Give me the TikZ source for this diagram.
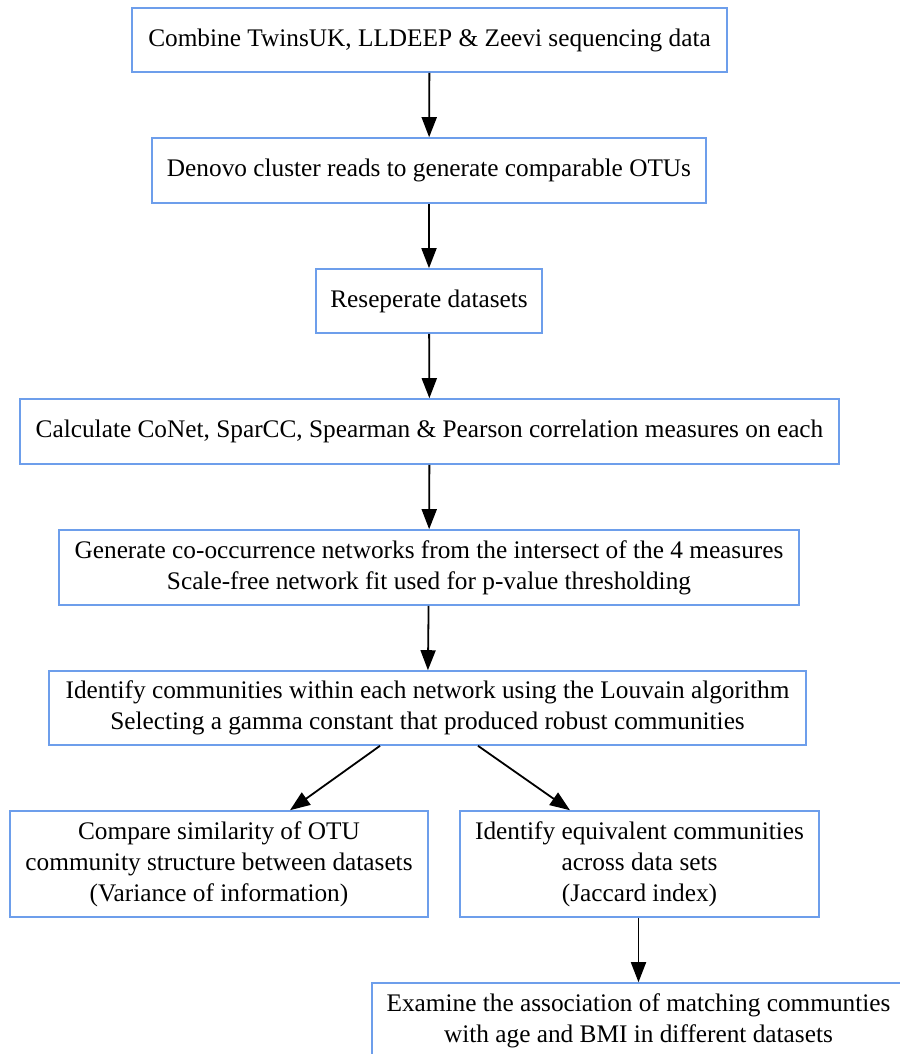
\documentclass[tikz,border=0pt]{standalone}
\usepackage{fontspec}
\setmainfont{Liberation Serif}
\usetikzlibrary{arrows.meta,calc}
\definecolor{boxblue}{HTML}{6D9EEB}
\tikzset{
  stepbox/.style={draw=boxblue, line width=1.6pt, fill=white, inner sep=0pt,
    align=center, font=\fontsize{25.3}{31}\selectfont},
  flow/.style={line width=1.8pt, -{Triangle[length=20pt,width=15pt]}},
}
\begin{document}
\begin{tikzpicture}[x=1pt,y=-1pt]
\useasboundingbox (0,0) rectangle (899,1054);
\node[stepbox, minimum width=595pt, minimum height=64pt] (combine) at (429.5,40)
  {Combine TwinsUK, LLDEEP \& Zeevi sequencing data};
\node[stepbox, minimum width=554pt, minimum height=65pt] (denovo) at (429,170.5)
  {Denovo cluster reads to generate comparable OTUs};
\node[stepbox, minimum width=226pt, minimum height=64pt] (resep) at (429,301)
  {Reseperate datasets};
\node[stepbox, minimum width=819pt, minimum height=65pt] (calc) at (429.5,431.5)
  {Calculate CoNet, SparCC, Spearman \& Pearson correlation measures on each};
\node[stepbox, minimum width=740pt, minimum height=75pt] (cooc) at (429,567.5)
  {Generate co-occurrence networks from the intersect of the 4 measures\\
   Scale-free network fit used for p-value thresholding};
\node[stepbox, minimum width=757pt, minimum height=74pt] (louvain) at (427.5,708)
  {Identify communities within each network using the Louvain algorithm\\
   Selecting a gamma constant that produced robust communities};
\node[stepbox, minimum width=418pt, minimum height=106pt] (compare) at (219,864)
  {Compare similarity of OTU\\ community structure between datasets\\ (Variance of information)};
\node[stepbox, minimum width=359pt, minimum height=106pt] (equiv) at (639.5,864)
  {Identify equivalent communities\\ across data sets\\ (Jaccard index)};
\node[stepbox, minimum width=533pt, minimum height=75pt] (examine) at (638.5,1020.5)
  {Examine the association of matching communties\\ with age and BMI in different datasets};

\draw[flow] (combine) -- (denovo);
\draw[flow] (denovo) -- (resep);
\draw[flow] (resep) -- (calc);
\draw[flow] (calc) -- (cooc);
\draw[flow] (cooc) -- (louvain);
\draw[flow] ($(louvain.south)+(-47.5,0)$) -- ($(compare.north)+(71,0)$);
\draw[flow] ($(louvain.south)+(50.5,0)$) -- ($(equiv.north)+(-69.5,0)$);
\draw[flow] (equiv.south -| examine.north) -- (examine.north);
\end{tikzpicture}
\end{document}
